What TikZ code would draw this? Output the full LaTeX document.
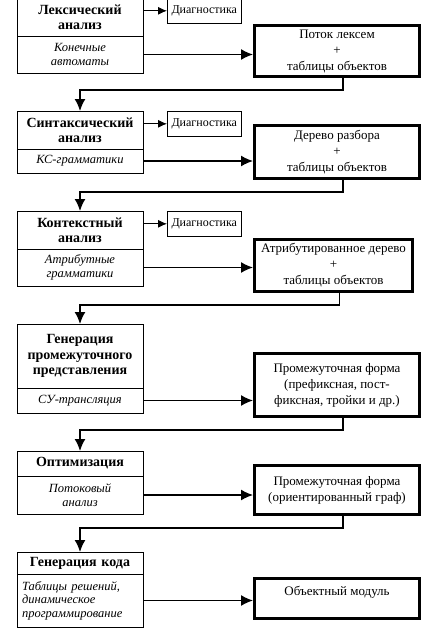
\documentclass[tikz,border=0pt]{standalone}
\usepackage{fontspec}
\setmainfont{Liberation Serif}
\usetikzlibrary{arrows.meta,positioning}
\tikzset{
    stage/.style={draw,line width=0.8pt,outer sep=0pt,minimum width=126pt,text width=120pt,align=center,inner sep=2pt},
    title/.style={stage,font=\fontsize{14}{15.5}\selectfont\bfseries},
    method/.style={stage,font=\fontsize{12.5}{13.5}\selectfont\itshape},
    diag/.style={draw,line width=0.6pt,minimum width=74pt,minimum height=25pt,inner sep=1pt,font=\fontsize{12}{13}\selectfont},
    result/.style={draw,line width=3pt,minimum width=165pt,align=center,inner sep=2pt,anchor=north west,font=\fontsize{13}{16}\selectfont},
    toresult/.style={-{Latex[length=12pt,width=11pt]},line width=1.4pt},
    todiag/.style={-{Latex[length=9pt,width=8pt]},line width=0.9pt},
    back/.style={-{Latex[length=12pt,width=11pt]},line width=1.6pt}
}

\begin{document}
\begin{tikzpicture}[x=1pt,y=-1pt]

    \useasboundingbox (0,0) rectangle (428,643);

    % stages, left column
    \node[title,minimum height=38pt,anchor=north west] (lex) at (17,-2) {Лексический\\анализ};
    \node[method,minimum height=37pt,below=0pt of lex]  (lexm) {Конечные\\автоматы};

    \node[title,minimum height=38pt,below=38pt of lexm] (syn)  {Синтаксический\\анализ};
    \node[method,minimum height=24pt,below=0pt of syn]  (synm) {КС-грамматики};

    \node[title,minimum height=38pt,below=38pt of synm] (ctx)  {Контекстный\\анализ};
    \node[method,minimum height=37pt,below=0pt of ctx]  (ctxm) {Атрибутные\\грамматики};

    \node[title,minimum height=64pt,below=38pt of ctxm] (ir)   {Генерация\\промежуточного\\представления};
    \node[method,minimum height=25pt,below=0pt of ir]   (irm)  {СУ-трансляция};

    \node[title,minimum height=25pt,below=38pt of irm]  (opt)  {Оптимизация};
    \node[method,minimum height=38pt,below=0pt of opt]  (optm) {Потоковый\\анализ};

    \node[title,minimum height=22pt,below=38pt of optm] (gen)  {Генерация кода};
    \node[method,minimum height=53pt,align=left,inner xsep=0pt,text width=116pt,below=0pt of gen] (genm) {Таблицы решений,\\динамическое\\программирование};

    % diagnostics
    \node[diag,right=24pt of lex.north east,anchor=north west] (lexd) {Диагностика};
    \node[diag,right=24pt of syn.north east,anchor=north west] (synd) {Диагностика};
    \node[diag,right=24pt of ctx.north east,anchor=north west] (ctxd) {Диагностика};

    % results, right column
    \node[result,minimum height=51pt] (lexr) at (253,24)  {Поток лексем\\+\\таблицы объектов};
    \node[result,minimum height=53pt] (synr) at (253,124) {Дерево разбора\\+\\таблицы объектов};
    \node[result,minimum height=52pt,minimum width=158pt,inner xsep=0pt] (ctxr) at (253,238) {Атрибутированное дерево\\+\\таблицы объектов};
    \node[result,minimum height=63pt] (irr)  at (253,352) {Промежуточная форма\\(префиксная, пост-\\фиксная, тройки и др.)};
    \node[result,minimum height=49pt] (optr) at (253,464) {Промежуточная форма\\(ориентированный граф)};
    \node[result,minimum height=40pt,text depth=16pt] (genr) at (253,577) {Объектный модуль};

    \foreach \s in {lex,syn,ctx}
        \draw[todiag] (\s d.west -| \s.east) -- (\s d.west);

    \foreach \s in {lex,syn,ctx,ir,opt,gen}
        \draw[toresult] (\s m.east) -- (\s m.east -| \s r.west);

    \foreach \r/\s in {lexr/syn,synr/ctx,ctxr/ir,irr/opt,optr/gen}
        \draw[back] ([xshift=6pt]\r.south) -- ++(0,12) -| (\s.north);

\end{tikzpicture}
\end{document}
